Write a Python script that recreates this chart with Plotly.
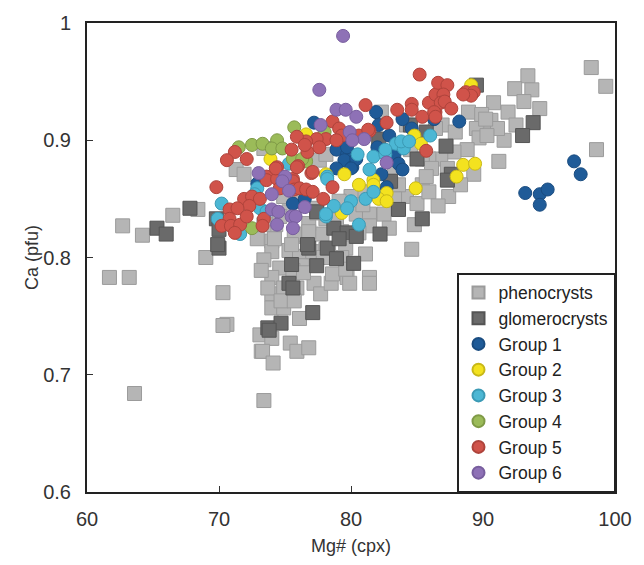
import plotly.graph_objects as go

# ---------------- data (Mg# of cpx, Ca pfu) ----------------
pheno_mg = [62.7,64.2,66.5,68.4,69.0,61.7,63.2,70.3,70.6,63.6,73.2,73.4,70.3,73.1,74.0,73.3,75.4,75.9,76.8,74.1,
            74.0,74.0,73.4,75.3,76.1,76.3,74.6,75.6,74.0,74.0,74.9,75.9,74.0,74.9,77.2,77.7,78.5,78.6,79.7,79.9,
            81.4,81.4,81.1,79.6,79.3,77.8,77.1,76.6,76.8,75.7,77.4,78.1,80.4,81.4,82.5,82.9,81.4,80.6,84.2,85.0,
            84.8,84.6,83.6,85.4,78.3,79.3,74.3,73.4,98.2,99.3,98.6,93.4,92.4,93.7,93.1,94.3,91.9,90.8,90.6,89.5,
            89.7,88.9,91.6,91.1,92.5,89.9,90.2,88.8,87.8,86.8,86.9,91.2,85.9,87.3,89.3,87.9,90.3,87.4,88.3,82.3,
            84.2,84.5,85.4,86.1,77.6,78.1,86.4,71.3,71.9,73.4,77.4,74.2,75.5,78.1,76.8,
            83.3,82.1,85.9,86.6,85.7,83.3,81.0,80.0,79.1,76.1,74.9,75.3,74.6,72.9,73.2,73.7,74.7,75.7,76.1,
            78.9,80.9,79.6,77.9,76.4]
pheno_ca = [0.827,0.819,0.836,0.841,0.800,0.783,0.783,0.770,0.743,0.684,0.720,0.678,0.742,0.734,0.731,0.720,0.727,0.720,0.723,0.710,
            0.814,0.805,0.798,0.806,0.801,0.793,0.791,0.789,0.783,0.769,0.774,0.774,0.757,0.757,0.778,0.769,0.778,0.786,0.783,0.778,
            0.783,0.778,0.803,0.808,0.822,0.820,0.805,0.818,0.829,0.820,0.842,0.833,0.837,0.837,0.837,0.825,0.827,0.821,0.852,0.846,
            0.828,0.807,0.862,0.862,0.804,0.800,0.828,0.828,0.962,0.946,0.892,0.955,0.944,0.943,0.933,0.927,0.924,0.932,0.917,0.910,
            0.902,0.924,0.900,0.910,0.913,0.922,0.918,0.892,0.890,0.884,0.913,0.882,0.884,0.876,0.871,0.907,0.904,0.852,0.862,0.924,
            0.913,0.892,0.884,0.876,0.883,0.888,0.910,0.875,0.871,0.893,0.838,0.816,0.811,0.807,0.822,
            0.850,0.856,0.856,0.844,0.869,0.877,0.856,0.852,0.848,0.848,0.852,0.839,0.835,0.816,0.789,0.774,0.763,0.763,0.748,
            0.832,0.845,0.790,0.800,0.787]

glomero_mg = [65.3,66.0,67.8,69.8,70.0,70.0,73.7,74.7,73.8,76.8,75.5,77.4,78.2,78.9,80.2,75.3,75.6,78.7,79.7,79.1,
              80.4,82.2,83.6,85.4,83.0,77.1,93.8,93.0,87.2,89.5,87.6,87.3,82.1,84.5,85.7,85.0,69.9,77.4,76.7]
glomero_ca = [0.825,0.820,0.842,0.833,0.824,0.808,0.740,0.744,0.738,0.808,0.794,0.793,0.808,0.799,0.795,0.778,0.774,0.825,0.821,0.816,
              0.818,0.820,0.841,0.833,0.865,0.753,0.915,0.904,0.895,0.947,0.871,0.866,0.901,0.913,0.907,0.884,0.811,0.839,0.811]

g1_mg = [88.2,96.9,97.4,93.2,94.3,94.9,94.3,81.9,77.2,78.9,79.7,79.5,80.1,78.9,82.3,83.3,83.6,83.9,82.1,83.9,
         82.9,84.6,86.3,72.9,75.6,76.5,79.7,80.4,80.0,82.7,82.0]
g1_ca = [0.916,0.882,0.871,0.855,0.854,0.858,0.845,0.924,0.915,0.892,0.888,0.883,0.877,0.876,0.871,0.888,0.880,0.875,0.913,0.918,
         0.904,0.910,0.918,0.863,0.846,0.850,0.894,0.884,0.876,0.860,0.894]

g2_mg = [89.1,88.5,89.4,88.0,76.6,73.9,79.5,84.8,85.3,81.7,78.1,80.6,81.7,82.7,82.1,82.7,84.9,79.3]
g2_ca = [0.947,0.879,0.880,0.869,0.905,0.884,0.871,0.904,0.897,0.866,0.871,0.862,0.862,0.855,0.850,0.848,0.859,0.838]

g3_mg = [80.5,81.7,82.6,83.4,84.0,83.8,84.4,86.0,81.4,78.2,82.6,81.1,80.0,78.7,78.1,80.6,79.7,81.7,75.3,72.9,
         70.2,69.9,71.6,72.7,73.1,73.6,78.1,78.2]
g3_ca = [0.888,0.886,0.888,0.897,0.893,0.899,0.899,0.904,0.875,0.869,0.892,0.850,0.848,0.844,0.835,0.828,0.842,0.856,0.880,0.859,
         0.846,0.833,0.820,0.854,0.842,0.839,0.837,0.867]

g4_mg = [72.5,73.3,74.4,74.0,74.8,75.7,75.6,76.6,72.5,78.0,76.3,71.5]
g4_ca = [0.896,0.897,0.900,0.893,0.893,0.911,0.884,0.882,0.825,0.907,0.884,0.894]

g5_mg = [85.2,81.1,83.5,84.6,84.6,85.4,85.9,86.4,86.4,82.7,78.6,79.1,79.3,78.1,77.4,76.6,75.9,75.5,76.7,77.6,
         78.9,80.1,80.6,81.4,85.7,74.4,76.0,77.0,73.6,75.6,86.6,87.3,87.0,86.8,87.1,86.3,87.6,86.4,88.7,89.3,
         89.1,71.2,70.6,72.1,69.8,71.9,72.5,73.1,72.3,70.8,71.4,70.8,70.2,70.9,71.6,71.2,72.1,73.4,73.3,73.6,
         74.4,74.3,74.6,75.6,75.7,76.1,76.6,77.1,75.9,77.1,76.5,77.9,88.5,81.3,78.6]
g5_ca = [0.956,0.930,0.926,0.931,0.926,0.920,0.932,0.924,0.939,0.915,0.916,0.910,0.904,0.901,0.901,0.899,0.903,0.892,0.890,0.894,
         0.900,0.904,0.904,0.908,0.891,0.877,0.878,0.872,0.869,0.867,0.949,0.947,0.939,0.932,0.933,0.924,0.927,0.920,0.941,0.941,
         0.938,0.890,0.883,0.884,0.860,0.850,0.852,0.850,0.844,0.841,0.842,0.833,0.827,0.827,0.828,0.821,0.835,0.833,0.827,0.866,
         0.867,0.876,0.859,0.865,0.858,0.859,0.858,0.856,0.877,0.873,0.896,0.850,0.939,0.909,0.860]

g6_mg = [79.4,77.6,78.9,79.6,80.4,77.7,79.9,81.0,80.1,82.7,75.0,73.0,74.8,75.3,74.0,74.0,74.5,75.5,75.8,74.4,75.6,76.5]
g6_ca = [0.989,0.943,0.926,0.926,0.920,0.913,0.907,0.901,0.900,0.881,0.869,0.872,0.865,0.857,0.854,0.841,0.839,0.835,0.835,0.828,0.825,0.843]

series = [
    ("phenocrysts", pheno_mg, pheno_ca, "square", "#b5b5b5", "#9b9b9b", 14),
    ("glomerocrysts", glomero_mg, glomero_ca, "square", "#6a6a6a", "#545454", 14),
    ("Group 1", g1_mg, g1_ca, "circle", "#1f5b98", "#1a4c80", 13),
    ("Group 2", g2_mg, g2_ca, "circle", "#f3e21f", "#c8b818", 13),
    ("Group 3", g3_mg, g3_ca, "circle", "#4cb7d4", "#3b9ab5", 13),
    ("Group 4", g4_mg, g4_ca, "circle", "#9bbb59", "#7f9a46", 13),
    ("Group 5", g5_mg, g5_ca, "circle", "#d0534a", "#ae433b", 13),
    ("Group 6", g6_mg, g6_ca, "circle", "#8e71b6", "#785e9e", 13),
]

fig = go.Figure()
for name, xs, ys, sym, fill, line, size in series:
    fig.add_trace(go.Scatter(
        x=xs, y=ys, mode="markers", name=name,
        marker=dict(symbol=sym, size=size, color=fill, line=dict(color=line, width=1)),
    ))

axis_font = dict(family="Liberation Sans, Arial, sans-serif", size=20, color="#333333")
fig.update_layout(
    width=644, height=565,
    margin=dict(l=87, r=27, t=20, b=72),
    paper_bgcolor="white", plot_bgcolor="white",
    font=dict(family="Liberation Sans, Arial, sans-serif", size=18, color="#222222"),
    showlegend=True,
    legend=dict(x=1, y=0, xanchor="right", yanchor="bottom",
                bordercolor="#222222", borderwidth=1.5, bgcolor="white",
                font=dict(size=17.5, color="#222222"), tracegroupgap=0,
                itemsizing="constant", itemwidth=30),
    xaxis=dict(range=[60, 100], dtick=10, tick0=60, showgrid=False, zeroline=False,
               showline=True, linecolor="#222222", linewidth=2, mirror=True,
               ticks="inside", ticklen=6, tickcolor="#333333", tickfont=axis_font,
               ticklabelstandoff=8,
               title=dict(text="Mg# (cpx)", font=dict(size=18, color="#333333"), standoff=10)),
    yaxis=dict(range=[0.6, 1.0], dtick=0.1, tick0=0.6, showgrid=False, zeroline=False,
               showline=True, linecolor="#222222", linewidth=2, mirror=True,
               ticks="inside", ticklen=6, tickcolor="#333333", tickfont=axis_font,
               ticklabelstandoff=10,
               title=dict(text="Ca (pfu)", font=dict(size=18, color="#333333"), standoff=0)),
)

fig.write_html("out.html")
